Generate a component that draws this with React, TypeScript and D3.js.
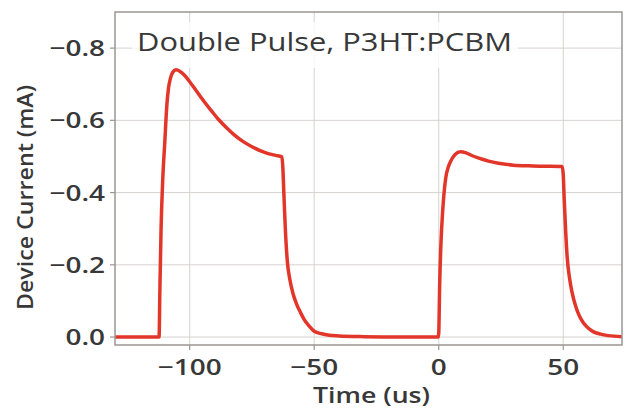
import React from "react";
import * as d3 from "d3";

const timeUs = [
  -130, -112.3, -112.0, -111.5, -110.8, -110.0, -109.2, -108.5, -107.8, -106.8, -105.5,
  -104, -102, -100, -98, -96, -94, -91, -88.5, -85, -82, -78.5, -75, -72, -68.5, -65.5, -63,
  -62.6, -62.2, -61.6, -60.8, -59.8, -58.5, -57, -55.5, -54, -52, -50, -47, -44, -40, -30, -15, -0.2,
  0, 0.4, 0.9, 1.6, 2.8, 3.8, 4.8, 6.5, 8.8, 11, 13.5, 16.8, 20, 24, 30, 36, 42, 49.6,
  50, 50.4, 51, 51.6, 52.5, 53.5, 55, 56.5, 58, 60, 62, 65, 68, 74,
];
const currentMA = [
  0, 0, -0.12, -0.3, -0.44, -0.54, -0.64, -0.69, -0.715, -0.733, -0.74,
  -0.736, -0.724, -0.707, -0.688, -0.669, -0.65, -0.624, -0.603, -0.578, -0.559, -0.541, -0.527, -0.517, -0.508, -0.503, -0.499,
  -0.47, -0.4, -0.3, -0.21, -0.16, -0.12, -0.09, -0.068, -0.048, -0.03, -0.016, -0.009, -0.005, -0.003, -0.001, 0, 0,
  -0.01, -0.15, -0.26, -0.35, -0.44, -0.47, -0.487, -0.505, -0.513, -0.51, -0.502, -0.494, -0.487, -0.481, -0.476, -0.474, -0.473, -0.472,
  -0.45, -0.38, -0.29, -0.22, -0.165, -0.125, -0.085, -0.058, -0.04, -0.025, -0.015, -0.008, -0.004, -0.001,
];
const xTicks = [-100, -50, 0, 50];
const xTickLabels = ["\u2212100", "\u221250", "0", "50"];
const yTicks = [0, -0.2, -0.4, -0.6, -0.8];
const yTickLabels = ["0.0", "\u22120.2", "\u22120.4", "\u22120.6", "\u22120.8"];
const title = "Double Pulse, P3HT:PCBM";
const xLabel = "Time (us)";
const yLabel = "Device Current (mA)";

const W = 624, H = 412;
const L = 115, R = 622, T = 12, B = 345;
const FONT = "'Open Sans', 'DejaVu Sans', sans-serif";
const KX = 1.27;

export default function App() {
  const x = d3.scaleLinear().domain([-130, 73.6]).range([L, R]);
  const y = d3.scaleLinear().domain([0.022, -0.9]).range([B, T]);
  const pts: [number, number][] = timeUs.map((t, i) => [t, currentMA[i]]);
  const line = d3
    .line<[number, number]>()
    .x((d) => x(d[0]))
    .y((d) => y(d[1]))
    .curve(d3.curveMonotoneX);
  const grid = "#d6d2d0";
  const spine = "#9a9694";
  const txt = "#383838";
  return (
    <svg width={W} height={H} style={{ position: "absolute", left: 0, top: 0, background: "#fff" }}>
      <defs>
        <clipPath id="plot">
          <rect x={L} y={T} width={R - L} height={B - T} />
        </clipPath>
      </defs>
      <rect x={0} y={0} width={W} height={H} fill="#fff" />
      {xTicks.map((t) => (
        <line key={"gx" + t} x1={x(t)} x2={x(t)} y1={T} y2={B} stroke={grid} strokeWidth={1} />
      ))}
      {yTicks.map((t) => (
        <line key={"gy" + t} x1={L} x2={R} y1={y(t)} y2={y(t)} stroke={grid} strokeWidth={1} />
      ))}
      <rect x={132} y={22} width={386} height={46} fill="#fff" opacity={0.8} />
      <path d={line(pts) || ""} fill="none" stroke="#e2362a" strokeWidth={3.5} strokeLinejoin="round" clipPath="url(#plot)" />
      <rect x={L} y={T} width={R - L} height={B - T} fill="none" stroke={spine} strokeWidth={1.5} />
      {xTicks.map((t, i) => (
        <g key={"xt" + t}>
          <line x1={x(t)} x2={x(t)} y1={B} y2={B + 5} stroke={spine} strokeWidth={1.2} />
          <text
            transform={`translate(${x(t)}, 375) scale(${KX}, 1)`}
            textAnchor="middle"
            fontFamily={FONT}
            fontWeight={600}
            fontSize={22}
            fill={txt}
          >
            {xTickLabels[i]}
          </text>
        </g>
      ))}
      {yTicks.map((t, i) => (
        <g key={"yt" + t}>
          <line x1={L - 5} x2={L} y1={y(t)} y2={y(t)} stroke={spine} strokeWidth={1.2} />
          <text
            transform={`translate(105, ${y(t)}) scale(${KX}, 1)`}
            dy="0.36em"
            textAnchor="end"
            fontFamily={FONT}
            fontWeight={600}
            fontSize={22}
            fill={txt}
          >
            {yTickLabels[i]}
          </text>
        </g>
      ))}
      <text
        x={313}
        y={403}
        textLength={117}
        lengthAdjust="spacingAndGlyphs"
        fontFamily={FONT}
        fontWeight={600}
        fontSize={21}
        fill={txt}
      >
        {xLabel}
      </text>
      <text
        transform={`translate(33, 310) rotate(-90)`}
        textLength={225}
        lengthAdjust="spacingAndGlyphs"
        fontFamily={FONT}
        fontWeight={600}
        fontSize={22}
        fill={txt}
      >
        {yLabel}
      </text>
      <text
        x={137}
        y={51}
        textLength={375}
        lengthAdjust="spacingAndGlyphs"
        fontFamily={FONT}
        fontWeight={500}
        fontSize={26}
        fill={txt}
      >
        {title}
      </text>
    </svg>
  );
}
